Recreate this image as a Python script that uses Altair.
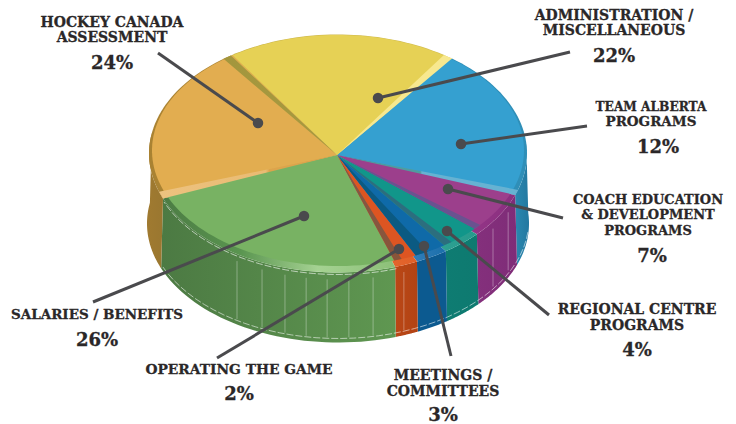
import math
import altair as alt
import pandas as pd

# ---- data ----
names = ["Team Alberta", "Coach Ed", "Regional", "Meetings", "Operating", "Salaries", "Hockey Canada", "Admin"]
apparent_sweep = [73.3, 22.3, 12.5, 10.1, 7.1, 85.4, 77.7, 71.6]   # drawn angle of each slice
start_angle = 307.1
top_colors = ["#35a0d0", "#9c3f8c", "#11968a", "#0f6aa8", "#dd5522", "#78b263", "#e2ad50", "#e6d155"]
rim_colors = [["#2a85ac", "#2f8fb8"], ["#b0489f", "#8a2f7f"], ["#45b3a5", "#269a8c"],
              ["#6a9fd6", "#1a6fab"], ["#ec6e36", "#e06028"],
              ["#4c7c44", "#5a9550", "#a5d292", "#8cc078"], ["#a98232", "#b08a3a"], ["#c9b34a", "#d4bf52"]]
wall_colors = [["#2a88b0", "#2378a0"], ["#84307c", "#7f2c78"], ["#0e7c72", "#0e7a70"],
               ["#0c5a90", "#0c5a90"], ["#ba4716", "#b24314"],
               ["#4c7a43", "#5f9751"], ["#a07a30", "#9a7730"], ["#888888", "#888888"]]
# radial side faces: slice index, angular width, side of the slice, colour stops
side_faces = [
    (0, 2.6, "end", [("#4f9c9f", 0), ("#4f9c9f", .46), ("#66b2d2", .47), ("#66b2d2", 1)]),
    (7, 3.0, "end", [("#f7e88f", 0), ("#f7e88f", 1)]),
    (6, 2.8, "end", [("#a3963d", 0), ("#a89a3f", 1)]),
    (6, 3.4, "start", [("#edc27f", 0), ("#e9bb73", .6), ("#dca44c", .62), ("#dca44c", 1)]),
    (1, 2.6, "end", [("#6a5290", 0), ("#6a5290", 1)]),
    (2, 2.8, "end", [("#2c6e7e", 0), ("#2c6e7e", 1)]),
    (3, 4.2, "end", [("#0b5a82", 0), ("#0b5a82", 1)]),
    (4, 2.4, "end", [("#80594a", 0), ("#8a5438", 1)]),
]
wall_rib_angles = [122.3, 113.7, 106.3, 99.7, 93.3, 86.7, 79.3, 69.6, 34.9, 25.8]

label_lines = ["HOCKEY CANADA", "ASSESSMENT", "ADMINISTRATION /", "MISCELLANEOUS", "TEAM ALBERTA", "PROGRAMS",
               "COACH EDUCATION", "& DEVELOPMENT", "PROGRAMS", "REGIONAL CENTRE", "PROGRAMS",
               "MEETINGS /", "COMMITTEES", "OPERATING THE GAME", "SALARIES / BENEFITS"]
label_x = [112, 112, 614, 614, 651, 651, 648, 648, 648, 637, 637, 443, 443, 239, 97]
label_y = [23, 38, 16, 31, 107, 122, 200, 215, 231, 310, 326, 376, 391.5, 370, 315]
label_size = [14, 14, 14, 14, 12.2, 13.5, 13, 13, 13, 14, 14, 14, 14, 13.8, 13.5]
pct_text = ["24%", "22%", "12%", "7%", "4%", "3%", "2%", "26%"]
pct_x = [112, 614, 658, 652, 637, 443, 239, 97]
pct_y = [63.5, 56.5, 147.5, 256.5, 350.5, 415.5, 395, 340.5]
leader_from_x = [258, 378, 461, 448, 447, 424, 399, 304]
leader_from_y = [123, 98, 144, 189, 231, 246, 249, 216]
leader_to_x = [158, 570, 587, 563, 549, 451, 217, 93]
leader_to_y = [53, 52, 126, 218, 315, 356, 358, 302]

# ---- pie geometry ----
CX, CY, RX, RY, DEPTH = 338, 153.5, 189, 119, 70
APEX = (337, 155)
X = alt.X("x:Q", axis=None, scale=alt.Scale(domain=[8, 728], nice=False, zero=False))
Y = alt.Y("y:Q", axis=None, scale=alt.Scale(domain=[424, 8], nice=False, zero=False))


def rim(t, inner=False):
    r = math.radians(t)
    if inner:
        return (CX + (RX - 3) * math.cos(r), CY - 3 + (RY - 3.5) * math.sin(r))
    return (CX + RX * math.cos(r), CY + RY * math.sin(r))


def floor(t):
    r = math.radians(t)
    return (CX + (RX + 2) * math.cos(r), CY + DEPTH + RY * math.sin(r))


def arc(a, b, fn, n=40):
    return [fn(a + (b - a) * i / n) for i in range(n + 1)]


def grad(stops):
    if isinstance(stops[0], str):
        stops = [(c, i / (len(stops) - 1)) for i, c in enumerate(stops)]
    return alt.LinearGradient(gradient="linear", x1=0, x2=1, y1=0, y2=0,
                              stops=[alt.GradientStop(color=c, offset=o) for c, o in stops])


def poly(pts, fill):
    df = pd.DataFrame({"x": [p[0] for p in pts] + [pts[0][0]],
                       "y": [p[1] for p in pts] + [pts[0][1]],
                       "i": range(len(pts) + 1)})
    return alt.Chart(df).mark_line(fill=fill, strokeWidth=0, stroke="transparent").encode(
        x=X, y=Y, order="i:Q")


def curve(pts, color, width=1, opacity=1.0, dash=None):
    df = pd.DataFrame({"x": [p[0] for p in pts], "y": [p[1] for p in pts], "i": range(len(pts))})
    kw = {"strokeDash": dash} if dash else {}
    return alt.Chart(df).mark_line(color=color, strokeWidth=width, opacity=opacity, **kw).encode(
        x=X, y=Y, order="i:Q")


edges = [start_angle]
for s in apparent_sweep:
    edges.append(edges[-1] + s)
spans = [(edges[i] % 360, (edges[i] % 360) + apparent_sweep[i]) for i in range(len(names))]

layers = []
# outer side walls (front half only)
for i, (a, b) in enumerate(spans):
    a2, b2 = a, b
    if i == 0:
        a2 = 355.0
    if i == 6:
        b2 = 190.0
    if i == 7:
        continue
    layers.append(poly(arc(a2, b2, rim) + arc(b2, a2, floor), grad(wall_colors[i])))

# light ribs on the walls
for t in wall_rib_angles:
    top = rim(t)
    bot = floor(t)
    layers.append(curve([(top[0], top[1] + 7), (top[0], bot[1] - 5)], "#ffffff", 1, 0.33))
layers.append(curve(arc(6, 157, lambda t: (floor(t)[0], floor(t)[1] - 4)), "#ffffff", 1, 0.55, [7, 2]))

# top faces: bevelled rim, then inner face
for i, (a, b) in enumerate(spans):
    layers.append(poly([APEX] + arc(a, b, rim), grad(rim_colors[i])))
for i, (a, b) in enumerate(spans):
    layers.append(poly([APEX] + arc(a, b, lambda t: rim(t, True)), top_colors[i]))
layers.append(curve(arc(72, 157, lambda t: (rim(t)[0], rim(t)[1] + 2)), "#ffffff", 1, 0.6, [7, 2]))

# radial side faces between the slices
for idx, width, side, stops in side_faces:
    a, b = spans[idx]
    ends = (b - width, b) if side == "end" else (a, a + width)
    inner = idx in (1, 2, 3, 4)
    fn = (lambda t: rim(t, True)) if inner else rim
    layers.append(poly([APEX, fn(ends[0]), fn(ends[1])], grad(stops)))

# leaders
for x0, y0, x1, y1 in zip(leader_from_x, leader_from_y, leader_to_x, leader_to_y):
    layers.append(curve([(x0, y0), (x1, y1)], "#4a4a4d", 3))
dots = alt.Chart(pd.DataFrame({"x": leader_from_x, "y": leader_from_y})).mark_circle(
    size=110, color="#4a4a4d", opacity=1).encode(x=X, y=Y)
layers.append(dots)

# texts
FONT = "DejaVu Serif"
labels = alt.Chart(pd.DataFrame({"x": label_x, "y": label_y, "t": label_lines, "s": label_size})).mark_text(
    font=FONT, fontWeight="bold", color="#2a2728", stroke="#2a2728", strokeWidth=0.3,
    align="center", baseline="middle"
).encode(x=X, y=Y, text="t:N", size=alt.Size("s:Q", scale=None, legend=None))
pcts = alt.Chart(pd.DataFrame({"x": pct_x, "y": pct_y, "t": pct_text})).mark_text(
    font=FONT, fontWeight="bold", fontSize=18, color="#2a2728", stroke="#2a2728", strokeWidth=0.3,
    align="center", baseline="middle"
).encode(x=X, y=Y, text="t:N")
layers += [labels, pcts]

chart = alt.layer(*layers).properties(
    width=720, height=416, padding=0, autosize=alt.AutoSizeParams(type="none"),
    background="#ffffff"
).configure_view(stroke=None)

chart.save("out.html", embed_options={"renderer": "svg", "actions": False})
